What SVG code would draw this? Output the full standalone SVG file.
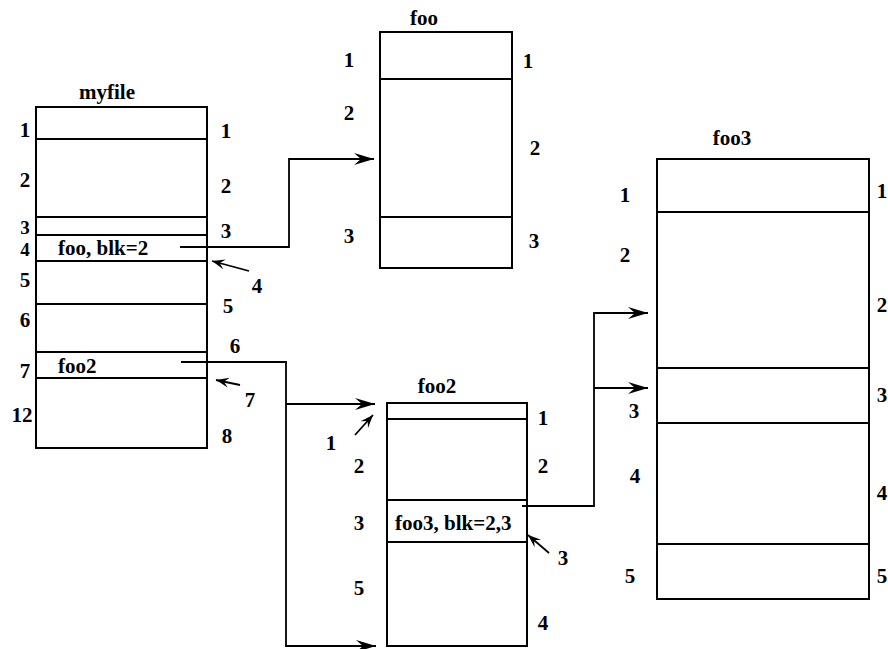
<svg xmlns="http://www.w3.org/2000/svg" width="888" height="649" viewBox="0 0 888 649">
<style>
.box{fill:#fff;stroke:#000;stroke-width:2}
.div{stroke:#000;stroke-width:2;fill:none}
.con{stroke:#000;stroke-width:1.8;fill:none}
.t{font-family:"Liberation Serif","Times New Roman",serif;font-weight:bold;font-size:21px;fill:#000}
.s{font-size:19px}
.m{text-anchor:middle}
</style>
<defs>
<marker id="arr" markerUnits="userSpaceOnUse" viewBox="-21 -7 22 14" refX="0" refY="0" markerWidth="22" markerHeight="14" orient="auto">
<path d="M0,0 L-20,-6 L-13,0 L-20,6 Z" fill="#000"/>
</marker>
<marker id="arrs" markerUnits="userSpaceOnUse" viewBox="-15 -6 16 12" refX="0" refY="0" markerWidth="16" markerHeight="12" orient="auto">
<path d="M0,0 L-13,-5 L-8,0 L-13,5 Z" fill="#000"/>
</marker>
</defs>

<g id="myfile">
<rect class="box" x="36" y="107" width="171" height="341"/>
<path class="div" d="M36,139H207M36,217H207M36,235H207M36,261H207M36,304H207M36,352H207M36,378H207"/>
<text class="t m" x="107" y="99">myfile</text>
<text class="t" x="58" y="255">foo, blk=2</text>
<text class="t" x="58" y="373">foo2</text>
<text class="t m" x="25" y="137">1</text>
<text class="t m" x="25" y="187">2</text>
<text class="t m s" x="25" y="234">3</text>
<text class="t m s" x="25" y="256">4</text>
<text class="t m" x="25" y="287">5</text>
<text class="t m" x="25" y="327">6</text>
<text class="t m" x="25" y="378">7</text>
<text class="t m" x="22" y="422">12</text>
<text class="t m" x="226" y="138">1</text>
<text class="t m" x="226" y="193">2</text>
<text class="t m" x="226" y="238">3</text>
<text class="t m" x="257" y="293">4</text>
<text class="t m" x="228" y="313">5</text>
<text class="t m" x="235" y="353">6</text>
<text class="t m" x="250" y="407">7</text>
<text class="t m" x="227" y="443">8</text>
</g>

<g id="foo">
<rect class="box" x="380" y="32" width="132" height="236"/>
<path class="div" d="M380,79H512M380,217H512"/>
<text class="t m" x="424" y="25">foo</text>
<text class="t m" x="349" y="67">1</text>
<text class="t m" x="349" y="120">2</text>
<text class="t m" x="349" y="243">3</text>
<text class="t m" x="528" y="68">1</text>
<text class="t m" x="535" y="155">2</text>
<text class="t m" x="534" y="248">3</text>
</g>

<g id="foo2">
<rect class="box" x="387" y="403" width="140" height="243"/>
<path class="div" d="M387,419H527M387,500H527M387,542H527"/>
<text class="t m" x="437" y="393">foo2</text>
<text class="t" x="395" y="530">foo3, blk=2,3</text>
<text class="t m" x="331" y="450">1</text>
<text class="t m" x="359" y="473">2</text>
<text class="t m" x="359" y="530">3</text>
<text class="t m" x="359" y="595">5</text>
<text class="t m" x="543" y="425">1</text>
<text class="t m" x="543" y="473">2</text>
<text class="t m" x="563" y="565">3</text>
<text class="t m" x="543" y="630">4</text>
</g>

<g id="foo3">
<rect class="box" x="657" y="159" width="212" height="440"/>
<path class="div" d="M657,212H869M657,368H869M657,423H869M657,544H869"/>
<text class="t m" x="732" y="145">foo3</text>
<text class="t m" x="625" y="202">1</text>
<text class="t m" x="625" y="262">2</text>
<text class="t m" x="634" y="418">3</text>
<text class="t m" x="635" y="483">4</text>
<text class="t m" x="630" y="583">5</text>
<text class="t m" x="882" y="198">1</text>
<text class="t m" x="882" y="312">2</text>
<text class="t m" x="882" y="402">3</text>
<text class="t m" x="882" y="500">4</text>
<text class="t m" x="882" y="583">5</text>
</g>

<g id="connectors">
<path class="con" d="M180,247H289V159H374" marker-end="url(#arr)"/>
<path class="con" d="M181,362H286V646H376" marker-end="url(#arr)"/>
<path class="con" d="M286,404H375" marker-end="url(#arr)"/>
<path class="con" d="M522,506H594V313H648" marker-end="url(#arr)"/>
<path class="con" d="M594,388H648" marker-end="url(#arr)"/>
<path class="con" d="M249,271L212,261" marker-end="url(#arrs)"/>
<path class="con" d="M240,385L216,380" marker-end="url(#arrs)"/>
<path class="con" d="M355,435L373,415" marker-end="url(#arrs)"/>
<path class="con" d="M549,553L528,535" marker-end="url(#arrs)"/>
</g>
</svg>
